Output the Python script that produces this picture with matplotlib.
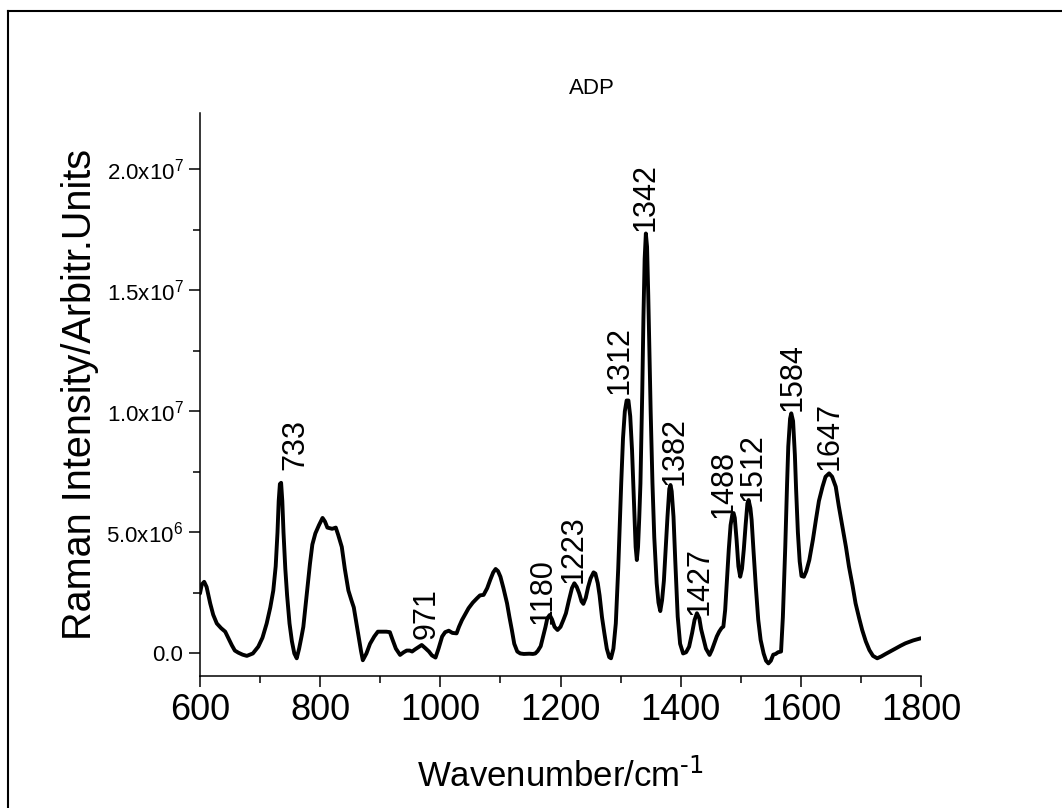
import numpy as np
import matplotlib
matplotlib.use("agg")
import matplotlib.pyplot as plt
from matplotlib.ticker import MultipleLocator, FuncFormatter
from matplotlib.lines import Line2D

plt.rcParams['font.family'] = ['Liberation Sans', 'DejaVu Sans']
plt.rcParams['mathtext.default'] = 'regular'

# spectrum (wavenumber / cm-1, intensity in units of 1e6)
wavenumber = [600, 603, 607, 611, 617, 622, 628, 635, 642, 647, 653, 658, 664, 671, 678, 688,
              697, 704, 711, 717, 722, 726, 729, 731, 733, 735, 737, 739, 742, 745, 749, 753,
              757, 761, 765, 769, 772, 777, 783, 787, 792, 798, 804, 808, 812, 820, 826, 830,
              836, 841, 847, 852, 856, 860, 864, 868, 871, 877, 883, 890, 896, 903, 910, 916,
              920, 926, 933, 939, 944, 949, 953, 958, 963, 969, 975, 981, 986, 992, 997, 1003,
              1008, 1014, 1020, 1027, 1031, 1036, 1042, 1047, 1054, 1061, 1066, 1072, 1078,
              1083, 1088, 1092, 1096, 1100, 1105, 1111, 1115, 1119, 1123, 1128, 1133, 1139,
              1148, 1154, 1158, 1162, 1167, 1171, 1175, 1178, 1182, 1186, 1190, 1195, 1200,
              1205, 1209, 1214, 1219, 1223, 1227, 1231, 1235, 1238, 1242, 1246, 1250, 1255,
              1258, 1262, 1265, 1269, 1273, 1277, 1281, 1284, 1288, 1292, 1296, 1301, 1304,
              1307, 1310, 1313, 1316, 1319, 1323, 1325, 1327, 1329, 1331, 1333, 1336, 1338,
              1340, 1342, 1344, 1346, 1348, 1350, 1353, 1356, 1360, 1363, 1366, 1369, 1372,
              1375, 1378, 1381, 1383, 1385, 1388, 1391, 1395, 1399, 1404, 1409, 1414, 1419,
              1423, 1427, 1431, 1434, 1437, 1442, 1448, 1452, 1456, 1460, 1464, 1468, 1471,
              1474, 1477, 1480, 1483, 1486, 1488, 1490, 1493, 1496, 1499, 1502, 1505, 1508,
              1511, 1513, 1516, 1518, 1521, 1525, 1529, 1533, 1538, 1542, 1546, 1550, 1554,
              1558, 1562, 1567, 1570, 1574, 1577, 1579, 1582, 1584, 1587, 1590, 1592, 1595,
              1598, 1601, 1605, 1609, 1614, 1620, 1625, 1630, 1636, 1641, 1647, 1652, 1658,
              1663, 1669, 1675, 1680, 1686, 1691, 1697, 1702, 1708, 1714, 1720, 1727, 1734,
              1741, 1750, 1758, 1766, 1774, 1787, 1800]
intensity = [2.48, 2.85, 2.96, 2.75, 2.07, 1.6, 1.24, 1.05, 0.9, 0.65, 0.34, 0.12, 0.03, -0.05, -0.1, 0.0,
             0.28, 0.65, 1.24, 1.9, 2.6, 3.6, 5.0, 6.3, 7.0, 7.05, 6.3, 5.0, 3.5, 2.4, 1.24, 0.5,
             0.0, -0.2, 0.2, 0.7, 1.1, 2.3, 3.7, 4.5, 4.96, 5.3, 5.6, 5.45, 5.2, 5.15, 5.2, 4.9,
             4.4, 3.5, 2.6, 2.2, 1.9, 1.3, 0.69, 0.1, -0.28, 0.0, 0.4, 0.7, 0.9, 0.9, 0.9, 0.88,
             0.6, 0.2, -0.06, 0.05, 0.12, 0.12, 0.08, 0.17, 0.25, 0.35, 0.22, 0.08, -0.08, -0.17, 0.2, 0.7,
             0.88, 0.94, 0.85, 0.83, 1.1, 1.38, 1.65, 1.87, 2.1, 2.28, 2.4, 2.42, 2.7,
             3.04, 3.35, 3.49, 3.4, 3.17, 2.7, 2.07, 1.5, 0.97, 0.4, 0.08, 0.0, -0.02,
             -0.01, -0.02, 0.0, 0.1, 0.3, 0.7, 1.1, 1.45, 1.59, 1.4, 1.1, 0.97, 1.1,
             1.4, 1.66, 2.2, 2.7, 2.9, 2.75, 2.49, 2.15, 2.05, 2.3, 2.75, 3.1, 3.35,
             3.3, 2.9, 2.4, 1.5, 0.83, 0.2, -0.15, -0.2, 0.2, 1.24, 3.5, 7.03, 8.9,
             10.0, 10.45, 10.45, 9.8, 8.4, 5.65, 4.4, 3.86, 4.4, 5.6, 7.03, 10.8, 13.9,
             16.3, 17.35, 16.8, 14.8, 12.5, 10.0, 7.03, 4.8, 2.9, 2.1, 1.75, 2.2, 3.0,
             4.3, 5.65, 6.8, 6.96, 6.7, 5.65, 3.8, 1.52, 0.4, 0.0, 0.05, 0.28, 0.85,
             1.38, 1.66, 1.45, 1.0, 0.7, 0.2, -0.06, 0.15, 0.42, 0.7, 0.9, 1.05, 1.11,
             1.8, 3.03, 4.3, 5.3, 5.75, 5.8, 5.6, 4.69, 3.6, 3.17, 3.5, 4.3, 5.3,
             6.2, 6.34, 6.0, 5.52, 4.3, 2.76, 1.4, 0.56, 0.0, -0.3, -0.41, -0.3, -0.05,
             -0.02, 0.05, 0.08, 1.5, 4.41, 7.0, 8.55, 9.7, 9.92, 9.6, 8.2, 6.8, 5.0,
             3.8, 3.2, 3.17, 3.4, 3.86, 4.7, 5.52, 6.3, 6.89, 7.3, 7.44, 7.3, 6.89,
             6.1, 5.24, 4.4, 3.59, 2.8, 2.07, 1.45, 0.97, 0.5, 0.14, -0.1, -0.2, -0.12,
             -0.02, 0.1, 0.21, 0.32, 0.42, 0.54, 0.63]

peak_labels = ['733', '971', '1180', '1223', '1312', '1342', '1382', '1427',
               '1488', '1512', '1584', '1647']
peak_label_x = [758, 977, 1170, 1222, 1298, 1342, 1390, 1432, 1471, 1519, 1586, 1648]
peak_label_y = [7.6, 0.6, 1.2, 2.9, 10.7, 17.45, 6.95, 1.6, 5.6, 6.3, 10.0, 7.6]

fig = plt.figure(figsize=(10.62, 8.08), dpi=100)
ax = fig.add_axes([0.1883, 0.1634, 0.679, 0.6968])

x = np.array(wavenumber)
y = np.array(intensity) * 1e6
ax.plot(x, y, color='black', lw=2.8, solid_joinstyle='round', solid_capstyle='round')

for lab, px, py in zip(peak_labels, peak_label_x, peak_label_y):
    ax.text(px, py * 1e6, lab, rotation=90, ha='center', va='bottom',
            fontsize=22, color='black')

ax.set_xlim(600, 1800)
ax.set_ylim(-0.93e6, 22.33e6)

for s in ['top', 'right']:
    ax.spines[s].set_visible(False)
for s in ['left', 'bottom']:
    ax.spines[s].set_linewidth(1.1)

ax.xaxis.set_major_locator(MultipleLocator(200))
ax.xaxis.set_minor_locator(MultipleLocator(100))
ax.yaxis.set_major_locator(MultipleLocator(5e6))
ax.yaxis.set_minor_locator(MultipleLocator(2.5e6))


def yfmt(v, pos):
    if abs(v) < 1:
        return '0.0'
    e = int(np.floor(np.log10(abs(v))))
    m = v / 10 ** e
    return r'$\mathregular{%.1fx10^{%d}}$' % (m, e)


ax.yaxis.set_major_formatter(FuncFormatter(yfmt))
ax.tick_params(which='both', direction='out', width=1.1, color='black')
ax.tick_params(which='major', length=8)
ax.tick_params(which='minor', length=5)
ax.tick_params(axis='x', labelsize=26, pad=4)
ax.tick_params(axis='y', labelsize=16, pad=4)

ax.set_xlabel(r'Wavenumber/cm$^{\text{-1}}$', fontsize=25, labelpad=22)
ax.set_ylabel('Raman Intensity/Arbitr.Units', fontsize=28.5, labelpad=5)
fig.text(0.557, 0.877, 'ADP', fontsize=16, ha='center', va='bottom')

# outer frame (only left and top edges are visible)
fig.add_artist(Line2D([8 / 1062, 8 / 1062], [0, 1 - 11 / 808], transform=fig.transFigure,
                      color='black', lw=1.5))
fig.add_artist(Line2D([8 / 1062, 1], [1 - 11 / 808, 1 - 11 / 808], transform=fig.transFigure,
                      color='black', lw=1.5))

fig.savefig('out.png', dpi=100)
